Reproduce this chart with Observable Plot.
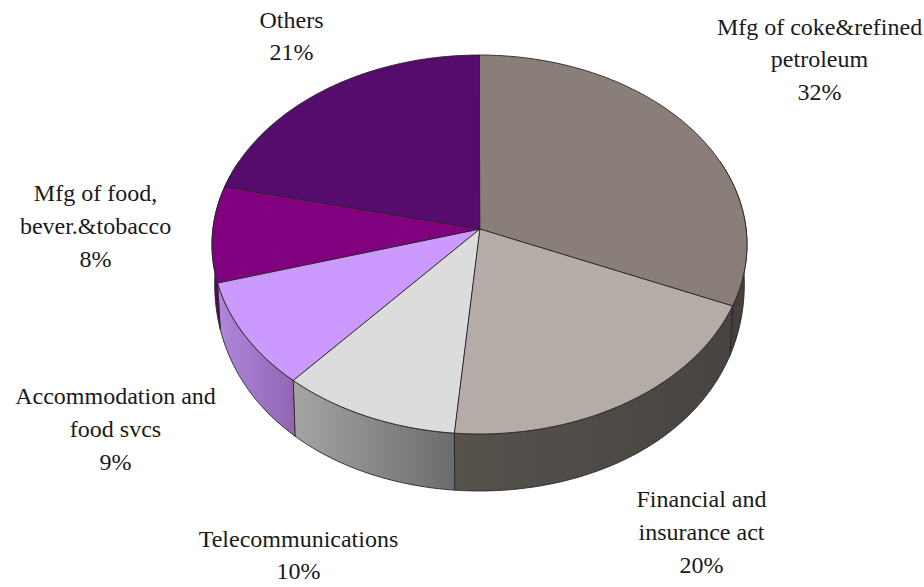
<!DOCTYPE html>
<html>
<head>
<meta charset="utf-8">
<script src="https://cdn.jsdelivr.net/npm/d3@7"></script>
<script src="https://cdn.jsdelivr.net/npm/@observablehq/plot@0.6"></script>
<style>html,body{margin:0;padding:0;background:#fff}svg{display:block}</style>
</head>
<body>
<div id="chart"></div>
<script>
const names = ["Mfg of coke&refined\npetroleum", "Financial and\ninsurance act", "Telecommunications", "Accommodation and\nfood svcs", "Mfg of food,\nbever.&tobacco", "Others"];
const shares = [31.5, 19.9, 10, 9.1, 8.2, 21.3];
const topColors = ["#8a7e78", "#b4aca7", "#dcdcdc", "#cc99ff", "#800080", "#560c6c"];
const wallLeft = ["#3f3b38", "#56524c", "#a5a5a5", "#b088dc", "#600060", "#400850"];
const wallRight = ["#46423e", "#474340", "#6c6c6c", "#9066b4", "#600060", "#400850"];
const labelX = [819, 701, 298, 115, 95, 291];
const labelY = [56.5, 529, 552, 426, 223, 33];

const W = 924, H = 587;
const cx = 479.5, apexY = 229, R = 266.6, A = 188.2, K = 0.0818;
const rimPoint = t => {
  const u = Math.sin(t), v = Math.cos(t), q = 1 + K * v;
  return {x: cx + R * u / q, y: apexY - A * v / q, v};
};
const arcs = d3.pie().sort(null).value(d => d)(shares);
const pts = (a, b) => [...d3.range(a, b, Math.PI / 180), b];
const slices = arcs.map((s, i) => ({i, pts: pts(s.startAngle, s.endAngle).map(rimPoint)}));
const sideMin = Math.PI * 0.38, sideMax = Math.PI * 1.62;
const walls = arcs.map((s, i) => {
  const a = Math.max(s.startAngle, sideMin), b = Math.min(s.endAngle, sideMax);
  if (a >= b) return null;
  return {i, pts: pts(a, b).map(t => {
    const p = rimPoint(t);
    const d = 57 - 21 * (1 + p.v) * (1 + p.v);
    return {x: p.x, y: p.y, xb: cx + (p.x - cx) * 0.99, yb: p.y + d};
  })};
}).filter(Boolean);
const rows = names.map((n, i) => ({text: `${n}\n${Math.round(shares[i])}%`, x: labelX[i], y: labelY[i]}));

const defs = () => {
  const g = d3.create("svg:defs");
  walls.forEach(w => {
    const lg = g.append("linearGradient").attr("id", `w${w.i}`);
    lg.append("stop").attr("offset", "0%").attr("stop-color", wallLeft[w.i]);
    lg.append("stop").attr("offset", "100%").attr("stop-color", wallRight[w.i]);
  });
  return g.node();
};

const stroke = "#2a2528";
const plot = Plot.plot({
  width: W, height: H,
  margin: 0,
  x: {domain: [0, W], range: [0, W], axis: null},
  y: {domain: [0, H], range: [0, H], axis: null},
  style: {background: "#fff"},
  marks: [
    defs,
    ...walls.map(w => Plot.area(w.pts, {
      x1: "x", y1: "y", x2: "xb", y2: "yb",
      fill: `url(#w${w.i})`, stroke, strokeWidth: 0.9
    })),
    ...slices.map(s => Plot.area(s.pts, {
      x1: "x", y1: "y", x2: () => cx, y2: () => apexY,
      fill: topColors[s.i], stroke, strokeWidth: 0.9
    })),
    Plot.text(rows, {
      x: "x", y: "y", text: "text",
      fontFamily: "Liberation Serif", fontSize: 24, lineHeight: 1.36,
      textAnchor: "middle", fill: "#1a1a1a"
    })
  ]
});
document.getElementById("chart").append(plot);
</script>
</body>
</html>
